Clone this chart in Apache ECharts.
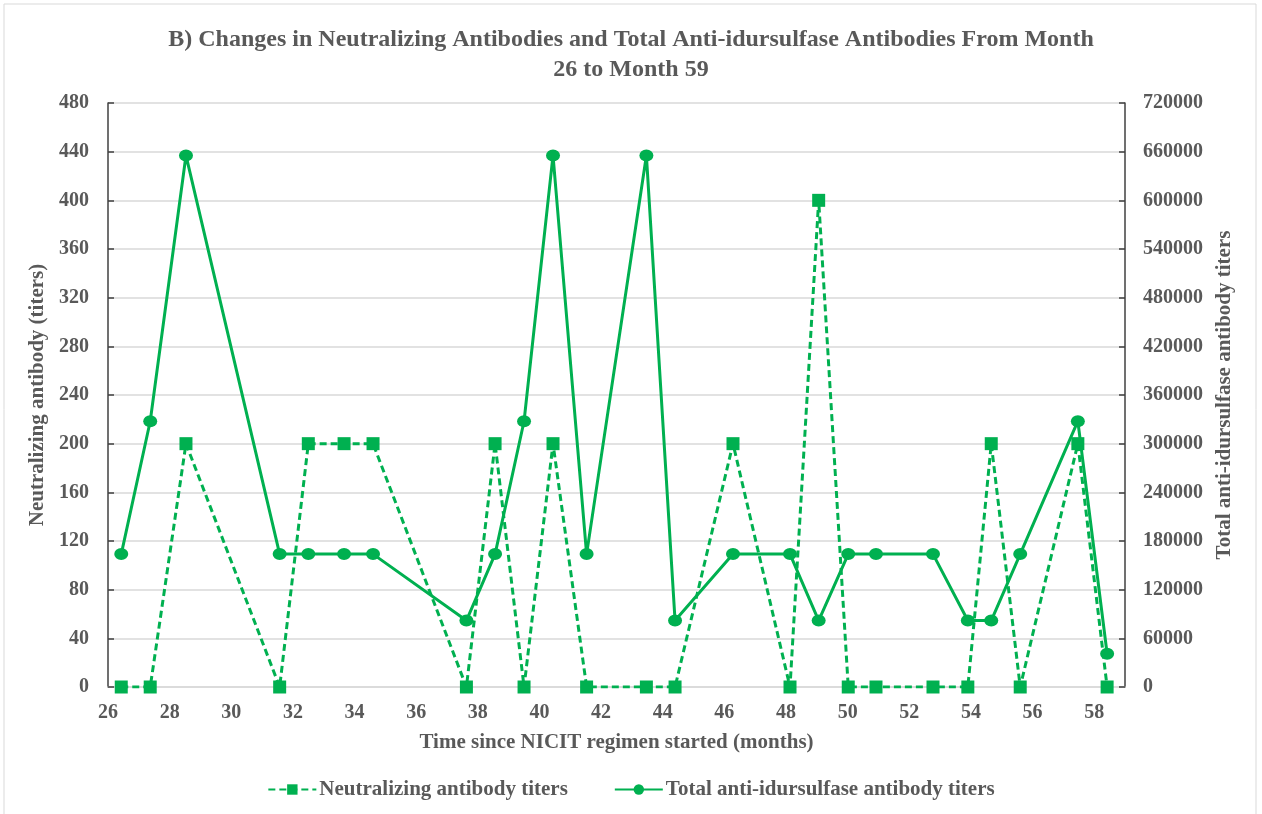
<!DOCTYPE html>
<html>
<head>
<meta charset="utf-8">
<script src="https://cdn.jsdelivr.net/npm/echarts@6/dist/echarts.min.js"></script>
<style>
  html, body { margin: 0; padding: 0; background: #ffffff; }
  #chart { width: 1262px; height: 814px; }
</style>
</head>
<body>
<div id="chart"></div>
<script>
// Time since NICIT regimen started (months)
const months = [26.43, 27.37, 28.53, 31.57, 32.5, 33.66, 34.6, 37.63, 38.56, 39.5, 40.44, 41.53, 43.47, 44.4, 46.28, 48.13, 49.06, 50.02, 50.92, 52.77, 53.9, 54.66, 55.6, 57.47, 58.42];
// Neutralizing antibody titers
const neutralizing = [0, 0, 200, 0, 200, 200, 200, 0, 200, 0, 200, 0, 0, 0, 200, 0, 400, 0, 0, 0, 0, 200, 0, 200, 0];
// Total anti-idursulfase antibody titers
const totalTiters = [163840, 327680, 655360, 163840, 163840, 163840, 163840, 81920, 163840, 327680, 655360, 163840, 655360, 81920, 163840, 163840, 81920, 163840, 163840, 163840, 81920, 81920, 163840, 327680, 40960];

const seriesNames = ['Neutralizing antibody titers', 'Total anti-idursulfase antibody titers'];
const titleText = 'B) Changes in Neutralizing Antibodies and Total Anti-idursulfase Antibodies From Month\n26 to Month 59';
const xAxisName = 'Time since NICIT regimen started (months)';
const leftAxisName = 'Neutralizing antibody (titers)';
const rightAxisName = 'Total anti-idursulfase antibody titers';

const green = '#00B050';
const textGray = '#595959';
const font = 'Liberation Serif';

const chart = echarts.init(document.getElementById('chart'));
chart.setOption({
  animation: false,
  backgroundColor: '#ffffff',
  graphic: [{
    type: 'rect',
    shape: { x: 4, y: 4, width: 1252, height: 830 },
    style: { fill: 'none', stroke: '#d9d9d9', lineWidth: 1 },
    silent: true, z: -10
  }],
  title: {
    text: titleText,
    left: 'center',
    top: 20,
    textStyle: { fontFamily: font, fontWeight: 'bold', fontSize: 24, color: textGray, lineHeight: 30 }
  },
  legend: {
    bottom: 9,
    left: 'center',
    itemWidth: 48,
    itemHeight: 13,
    itemGap: 46,
    textStyle: { fontFamily: font, fontWeight: 'bold', fontSize: 21, color: textGray, padding: [0, 0, 0, -2] },
    data: seriesNames
  },
  grid: { left: 108, right: 137, top: 103, bottom: 127, containLabel: false },
  xAxis: {
    type: 'value',
    min: 26, max: 59, interval: 2,
    name: xAxisName,
    nameLocation: 'middle',
    nameGap: 45,
    nameTextStyle: { fontFamily: font, fontWeight: 'bold', fontSize: 21, color: textGray },
    axisLine: { onZero: false, lineStyle: { color: '#d9d9d9', width: 1.5 } },
    axisTick: { show: false },
    splitLine: { show: false },
    axisLabel: { showMaxLabel: false, margin: 16, fontFamily: font, fontWeight: 'bold', fontSize: 20, color: textGray }
  },
  yAxis: [{
    type: 'value',
    min: 0, max: 480, interval: 40,
    position: 'left',
    name: leftAxisName,
    nameLocation: 'middle',
    nameGap: 53,
    nameTextStyle: { fontFamily: font, fontWeight: 'bold', fontSize: 21, color: textGray },
    axisLine: { show: true, lineStyle: { color: '#404040', width: 1.5 } },
    axisTick: { show: true, inside: true, length: 6, lineStyle: { color: '#404040', width: 1.5 } },
    splitLine: { show: true, lineStyle: { color: '#d9d9d9', width: 1.5 } },
    axisLabel: { margin: 19, fontFamily: font, fontWeight: 'bold', fontSize: 20, color: textGray }
  }, {
    type: 'value',
    min: 0, max: 720000, interval: 60000,
    position: 'right',
    name: rightAxisName,
    nameLocation: 'middle',
    nameGap: 85,
    nameTextStyle: { fontFamily: font, fontWeight: 'bold', fontSize: 21, color: textGray },
    axisLine: { show: true, lineStyle: { color: '#404040', width: 1.5 } },
    axisTick: { show: true, inside: true, length: 6, lineStyle: { color: '#404040', width: 1.5 } },
    splitLine: { show: false },
    axisLabel: { margin: 18, fontFamily: font, fontWeight: 'bold', fontSize: 20, color: textGray, formatter: v => String(v) }
  }],
  series: [{
    name: seriesNames[0],
    type: 'line',
    yAxisIndex: 0,
    data: months.map((m, i) => [m, neutralizing[i]]),
    symbol: 'rect',
    symbolSize: 13,
    itemStyle: { color: green },
    lineStyle: { color: green, width: 3, type: [7, 4] },
    z: 3
  }, {
    name: seriesNames[1],
    type: 'line',
    yAxisIndex: 1,
    data: months.map((m, i) => [m, totalTiters[i]]),
    symbol: 'circle',
    symbolSize: [14, 12],
    itemStyle: { color: green },
    lineStyle: { color: green, width: 3 },
    z: 2
  }]
});
</script>
</body>
</html>
